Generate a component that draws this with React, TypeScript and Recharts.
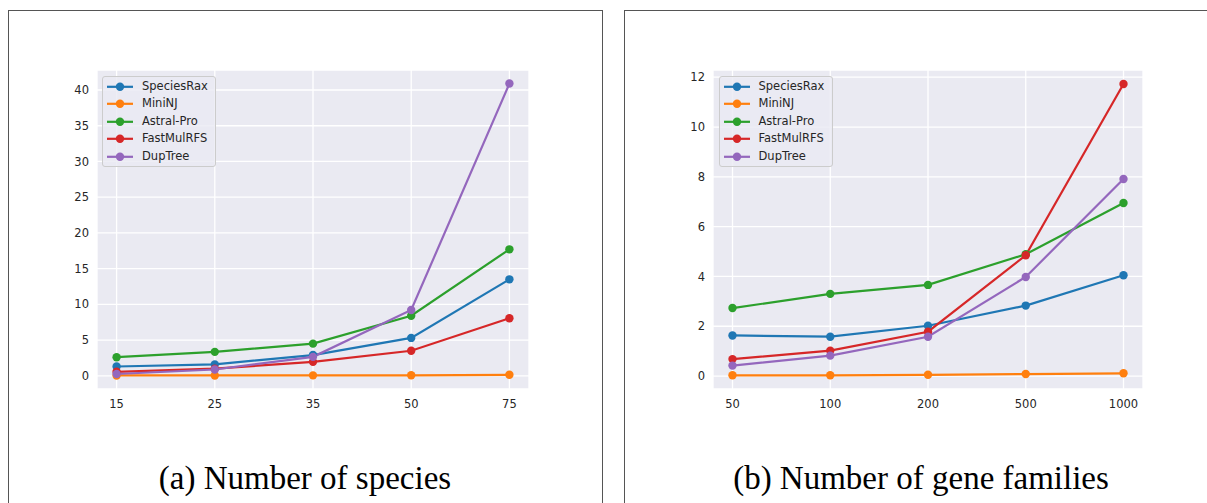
import React from 'react';
import { LineChart, Line, XAxis, YAxis, CartesianGrid, Legend } from 'recharts';

// (a) number of species
const speciesCats = ['15', '25', '35', '50', '75'];
const speciesRaxA = [1.3, 1.6, 2.9, 5.3, 13.5];
const miniNJA = [0.05, 0.05, 0.06, 0.07, 0.14];
const astralProA = [2.6, 3.35, 4.5, 8.4, 17.7];
const fastMulRFSA = [0.56, 1.0, 1.95, 3.5, 8.05];
const dupTreeA = [0.25, 0.88, 2.65, 9.2, 40.9];
const ticksA = [0, 5, 10, 15, 20, 25, 30, 35, 40];

// (b) number of gene families
const familyCats = ['50', '100', '200', '500', '1000'];
const speciesRaxB = [1.63, 1.58, 2.02, 2.83, 4.05];
const miniNJB = [0.03, 0.03, 0.05, 0.08, 0.11];
const astralProB = [2.73, 3.3, 3.66, 4.89, 6.95];
const fastMulRFSB = [0.68, 1.02, 1.78, 4.85, 11.73];
const dupTreeB = [0.42, 0.82, 1.58, 3.98, 7.91];
const ticksB = [0, 2, 4, 6, 8, 10, 12];

const methods = ['SpeciesRax', 'MiniNJ', 'Astral-Pro', 'FastMulRFS', 'DupTree'];
const colors = ['#1f77b4', '#ff7f0e', '#2ca02c', '#d62728', '#9467bd'];

const buildRows = (cats: string[], series: number[][]) =>
  cats.map((c, i) => {
    const row: Record<string, string | number> = { cat: c };
    methods.forEach((m, j) => { row[m] = series[j][i]; });
    return row;
  });

const dataA = buildRows(speciesCats, [speciesRaxA, miniNJA, astralProA, fastMulRFSA, dupTreeA]);
const dataB = buildRows(familyCats, [speciesRaxB, miniNJB, astralProB, fastMulRFSB, dupTreeB]);

const textColor = '#262626';
const tickStyle = { fill: textColor, fontSize: 11.5, fontFamily: 'DejaVu Sans' };

// keep the plotting order (recharts sorts its payload by name)
const renderLegend = () => (
  <div style={{
    width: 114, height: 91, boxSizing: 'border-box', border: '1px solid #cccccc',
    borderRadius: 3, background: 'rgba(234,234,242,0.8)', padding: '0.5px 0',
  }}>
    {methods.map((m, j) => (
      <div key={m} style={{ height: 17.6, position: 'relative' }}>
        <svg width={36} height={17.6} style={{ position: 'absolute', left: 3, top: 0 }}>
          <line x1={1} x2={27} y1={8.8} y2={8.8} stroke={colors[j]} strokeWidth={2.2} />
          <circle cx={14} cy={8.8} r={4.2} fill={colors[j]} />
        </svg>
        <span style={{
          position: 'absolute', left: 39, top: 0, lineHeight: '17.6px',
          fontFamily: 'DejaVu Sans', fontSize: 11.5, color: textColor, whiteSpace: 'nowrap',
        }}>{m}</span>
      </div>
    ))}
  </div>
);

interface PanelProps {
  data: Record<string, string | number>[];
  left: number;
  yWidth: number;
  plotWidth: number;
  pad: number;
  domain: [number, number];
  ticks: number[];
  legendLeft: number;
}

const Panel: React.FC<PanelProps> = ({ data, left, yWidth, plotWidth, pad, domain, ticks, legendLeft }) => (
  <div style={{ position: 'absolute', left, top: 60 }}>
    <LineChart
      width={yWidth + plotWidth + 10}
      height={359}
      data={data}
      margin={{ top: 10, right: 10, left: 0, bottom: 0 }}
    >
      <CartesianGrid fill="#EAEAF2" stroke="#ffffff" strokeWidth={1.3} />
      <XAxis
        dataKey="cat"
        padding={{ left: pad, right: pad }}
        axisLine={false}
        tickLine={false}
        tick={tickStyle}
        tickMargin={5}
        interval={0}
        height={30}
      />
      <YAxis
        type="number"
        domain={domain}
        ticks={ticks}
        allowDataOverflow
        axisLine={false}
        tickLine={false}
        tick={tickStyle}
        width={yWidth}
      />
      <Legend
        content={renderLegend}
        layout="vertical"
        align="center"
        verticalAlign="middle"
        wrapperStyle={{ position: 'absolute', left: legendLeft, top: 16, width: 114, height: 91 }}
      />
      {methods.map((m, j) => (
        <Line
          key={m}
          type="linear"
          dataKey={m}
          stroke={colors[j]}
          strokeWidth={2.2}
          dot={{ r: 4.2, fill: colors[j], stroke: colors[j], strokeWidth: 0 }}
          activeDot={false}
          isAnimationActive={false}
        />
      ))}
    </LineChart>
  </div>
);

const captionStyle: React.CSSProperties = {
  position: 'absolute', top: 462, width: 594, textAlign: 'center',
  fontFamily: '"Liberation Serif", serif', fontSize: 33, lineHeight: '33px', color: '#000',
  whiteSpace: 'nowrap',
};

export default function App() {
  return (
    <div style={{ position: 'absolute', left: 0, top: 0, width: 1207, height: 503, overflow: 'hidden', background: '#fff' }}>
      <div style={{ position: 'absolute', left: 8, top: 10, width: 595, height: 520, boxSizing: 'border-box', border: '1.5px solid #555' }} />
      <div style={{ position: 'absolute', left: 624, top: 10, width: 620, height: 520, boxSizing: 'border-box', border: '1.5px solid #555' }} />

      <Panel data={dataA} left={30} yWidth={67} plotWidth={432} pad={19.6} domain={[-1.85, 42.8]} ticks={ticksA} legendLeft={72} />
      <Panel data={dataB} left={650} yWidth={63} plotWidth={430} pad={19.5} domain={[-0.52, 12.29]} ticks={ticksB} legendLeft={68.5} />

      <div style={{ ...captionStyle, left: 8 }}>(a) Number of species</div>
      <div style={{ ...captionStyle, left: 624 }}>(b) Number of gene families</div>
    </div>
  );
}
